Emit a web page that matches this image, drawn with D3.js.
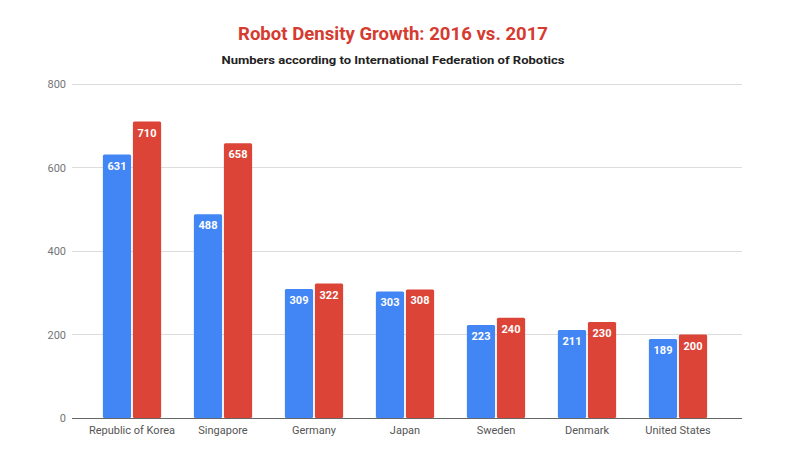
<!DOCTYPE html>
<html><head><meta charset="utf-8">
<script src="https://cdn.jsdelivr.net/npm/d3@7"></script>
<style>body{margin:0;background:#fff;}svg{display:block;font-family:Roboto,Arial,sans-serif;}</style>
</head><body><svg id="c" width="800" height="460"></svg>
<script>
const categories = ["Republic of Korea","Singapore","Germany","Japan","Sweden","Denmark","United States"];
const series = ["2016","2017"];
const values2016 = [631,488,309,303,223,211,189];
const values2017 = [710,658,322,308,240,230,200];
const yTicks = [0,200,400,600,800];
const colors = ["#4285f4","#db4437"];
const title = "Robot Density Growth: 2016 vs. 2017";
const subtitle = "Numbers according to International Federation of Robotics";

const svg = d3.select("#c");
const data = categories.map((c,i)=>({cat:c, vals:[values2016[i], values2017[i]]}));

const y = d3.scaleLinear().domain([0,800]).range([418,84]);
const x0 = d3.scaleBand().domain(categories).range([86.5,723.5]).paddingInner(0.36).paddingOuter(0.18);
const x1 = d3.scaleBand().domain(series).range([0,x0.bandwidth()]).paddingInner(0.06);

// gridlines
svg.append("g").selectAll("line").data(yTicks).join("line")
  .attr("x1",72).attr("x2",742)
  .attr("y1",d=>y(d)).attr("y2",d=>y(d))
  .attr("stroke",d=>d===0?"#555":"#dcdcdc").attr("stroke-width",1)
  .attr("shape-rendering","crispEdges");

// y axis labels
svg.append("g").selectAll("text").data(yTicks).join("text")
  .attr("x",66).attr("y",d=>y(d)+4).attr("text-anchor","end")
  .attr("font-size",11).attr("fill","#757575").text(d=>d);

// bars
const g = svg.append("g").selectAll("g").data(data).join("g")
  .attr("transform",d=>`translate(${x0(d.cat)},0)`);
g.selectAll("rect").data(d=>d.vals.map((v,j)=>({v,s:series[j],j}))).join("rect")
  .attr("x",d=>x1(d.s)).attr("width",x1.bandwidth())
  .attr("y",d=>y(d.v)).attr("height",d=>y(0)-y(d.v))
  .attr("fill",d=>colors[d.j]).attr("rx",1.5);
g.selectAll("text").data(d=>d.vals.map((v,j)=>({v,s:series[j],j}))).join("text")
  .attr("x",d=>x1(d.s)+x1.bandwidth()/2).attr("y",d=>y(d.v)+15)
  .attr("text-anchor","middle").attr("font-size",11).attr("font-weight","bold")
  .attr("fill","#fff").text(d=>d.v);

// baseline on top
svg.append("line").attr("x1",72).attr("x2",742).attr("y1",y(0)).attr("y2",y(0))
  .attr("stroke","#666").attr("shape-rendering","crispEdges");

// x labels
svg.append("g").selectAll("text").data(categories).join("text")
  .attr("x",d=>x0(d)+x0.bandwidth()/2).attr("y",434).attr("text-anchor","middle")
  .attr("font-size",11).attr("fill","#555").text(d=>d);

svg.append("text").attr("x",393).attr("y",40).attr("text-anchor","middle")
  .attr("font-size",18).attr("font-weight","bold").attr("fill","#d63b30")
  .attr("textLength",310).attr("lengthAdjust","spacingAndGlyphs").text(title);
svg.append("text").attr("x",393).attr("y",64).attr("text-anchor","middle")
  .attr("font-size",11.5).attr("font-weight","bold").attr("fill","#222")
  .attr("textLength",343).attr("lengthAdjust","spacingAndGlyphs").text(subtitle);
</script></body></html>
